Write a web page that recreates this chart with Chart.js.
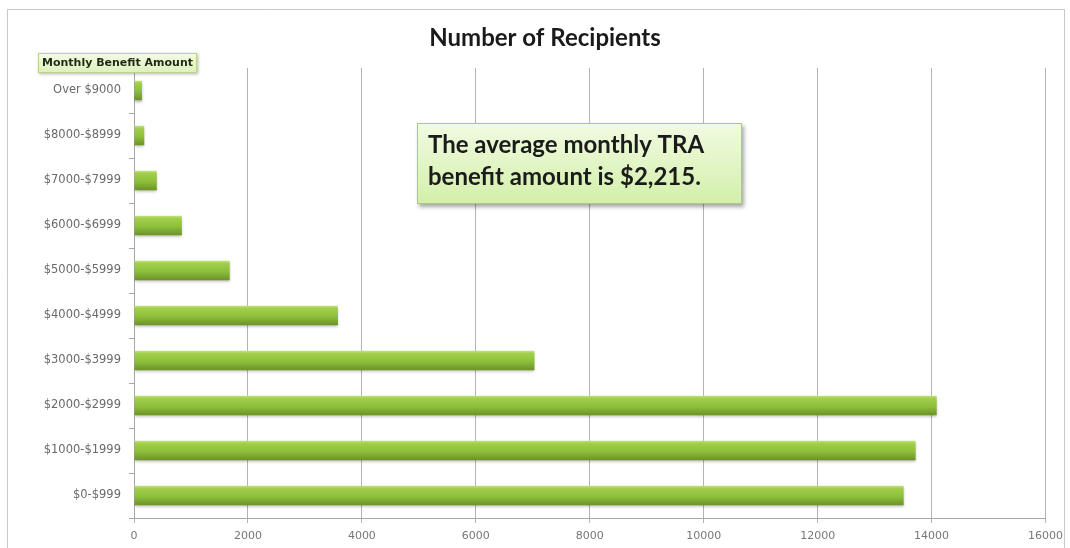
<!DOCTYPE html>
<html>
<head>
<meta charset="utf-8">
<script src="https://cdn.jsdelivr.net/npm/chart.js@4"></script>
<style>
  body { margin: 0; background: #fff; }
  #wrap { position: relative; width: 1070px; height: 548px; }
</style>
</head>
<body>
<div id="wrap"><canvas id="myChart"></canvas></div>
<script>
const categories = ["Over $9000", "$8000-$8999", "$7000-$7999", "$6000-$6999", "$5000-$5999",
  "$4000-$4999", "$3000-$3999", "$2000-$2999", "$1000-$1999", "$0-$999"];
const recipients = [140, 180, 400, 840, 1680, 3580, 7030, 14090, 13720, 13510];
const xTicks = [0, 2000, 4000, 6000, 8000, 10000, 12000, 14000, 16000];

const chartTitle = "Number of Recipients";
const axisTitle = "Monthly Benefit Amount";
const noteLines = ["The average monthly TRA", "benefit amount is $2,215."];

const chartCanvas = document.getElementById("myChart");

function barGradient(context) {
  const chart = context.chart;
  const yScale = chart.scales.y;
  if (!yScale || context.dataIndex === undefined) return "#8ab83a";
  const center = yScale.getPixelForValue(context.dataIndex);
  if (!isFinite(center)) return "#8ab83a";
  const half = 10;
  const g = chart.ctx.createLinearGradient(0, center - half, 0, center + half);
  g.addColorStop(0, "#c6e284");
  g.addColorStop(0.15, "#a2cf4a");
  g.addColorStop(0.55, "#8dbf3b");
  g.addColorStop(1, "#6b9128");
  return g;
}

// frame, title, little axis label box and the note box
const decorations = {
  id: "decorations",
  beforeDatasetsDraw(chart) {
    const ctx = chart.ctx;
    ctx.save();
    ctx.shadowColor = "rgba(0,0,0,0.28)";
    ctx.shadowBlur = 3;
    ctx.shadowOffsetY = 2;
  },
  afterDatasetsDraw(chart) {
    chart.ctx.restore();
  },
  afterDraw(chart) {
    const ctx = chart.ctx;
    ctx.save();

    // outer frame
    ctx.strokeStyle = "#c9c9c9";
    ctx.lineWidth = 1;
    ctx.beginPath();
    ctx.moveTo(7.5, 548);
    ctx.lineTo(7.5, 9.5);
    ctx.lineTo(1064.5, 9.5);
    ctx.lineTo(1064.5, 548);
    ctx.stroke();

    // title
    ctx.fillStyle = "#1a1a1a";
    ctx.font = "bold 24px Lato";
    ctx.textAlign = "center";
    ctx.textBaseline = "alphabetic";
    ctx.fillText(chartTitle, 545, 46);

    // "Monthly Benefit Amount" box
    ctx.save();
    ctx.shadowColor = "rgba(0,0,0,0.3)";
    ctx.shadowBlur = 3;
    ctx.shadowOffsetX = 1;
    ctx.shadowOffsetY = 1;
    let g = ctx.createLinearGradient(0, 53, 0, 74);
    g.addColorStop(0, "#f4fbe6");
    g.addColorStop(1, "#dcefb8");
    ctx.fillStyle = g;
    ctx.fillRect(38, 53, 159, 20);
    ctx.restore();
    ctx.strokeStyle = "#b9d48c";
    ctx.strokeRect(38.5, 53.5, 158, 19);
    ctx.fillStyle = "#1f2a12";
    ctx.font = "bold 11px 'DejaVu Sans'";
    ctx.textAlign = "center";
    ctx.textBaseline = "middle";
    ctx.fillText(axisTitle, 117.5, 63.5);

    // note box
    ctx.save();
    ctx.shadowColor = "rgba(0,0,0,0.35)";
    ctx.shadowBlur = 4;
    ctx.shadowOffsetX = 2;
    ctx.shadowOffsetY = 3;
    g = ctx.createLinearGradient(0, 123, 0, 204);
    g.addColorStop(0, "#f1fbe2");
    g.addColorStop(1, "#d3efaa");
    ctx.fillStyle = g;
    ctx.fillRect(417, 123, 325, 81);
    ctx.restore();
    ctx.strokeStyle = "#a9c98a";
    ctx.strokeRect(417.5, 123.5, 324, 80);
    ctx.fillStyle = "#1b1b1b";
    ctx.font = "bold 24px Lato";
    ctx.textAlign = "left";
    ctx.textBaseline = "alphabetic";
    ctx.fillText(noteLines[0], 428, 153);
    ctx.fillText(noteLines[1], 428, 185);

    ctx.restore();
  }
};

const myChart = new Chart(chartCanvas, {
  type: "bar",
  data: {
    labels: categories,
    datasets: [
      {
        label: chartTitle,
        data: recipients,
        backgroundColor: barGradient,
        borderWidth: 0,
        barPercentage: 0.43,
        categoryPercentage: 1,
      },
    ],
  },
  options: {
    indexAxis: "y",
    responsive: true,
    maintainAspectRatio: false,
    animation: false,
    events: [],
    layout: { padding: { left: 0, right: 23, top: 68, bottom: 0 } },
    plugins: {
      legend: { display: false },
      title: { display: false },
      tooltip: { enabled: false },
    },
    scales: {
      x: {
        min: 0,
        max: 16000,
        afterBuildTicks: (scale) => {
          scale.ticks = xTicks.map((v) => ({ value: v }));
        },
        afterFit: (scale) => {
          scale.height = 30;
        },
        grid: {
          color: "#b3b3b3",
          lineWidth: 1,
          tickLength: 5,
          drawTicks: true,
        },
        border: { color: "#a6a6a6" },
        ticks: {
          color: "#777777",
          font: { family: "DejaVu Sans", size: 11 },
          padding: 7,
          maxRotation: 0,
          callback: (v) => String(v),
        },
      },
      y: {
        afterFit: (scale) => {
          scale.width = 134;
        },
        grid: {
          offset: true,
          drawOnChartArea: false,
          tickLength: 5,
          color: "#a6a6a6",
        },
        border: { color: "#a6a6a6" },
        ticks: {
          color: "#6a6a6a",
          font: { family: "DejaVu Sans", size: 11.5 },
          padding: 8,
        },
      },
    },
  },
  plugins: [decorations],
});
</script>
</body>
</html>
